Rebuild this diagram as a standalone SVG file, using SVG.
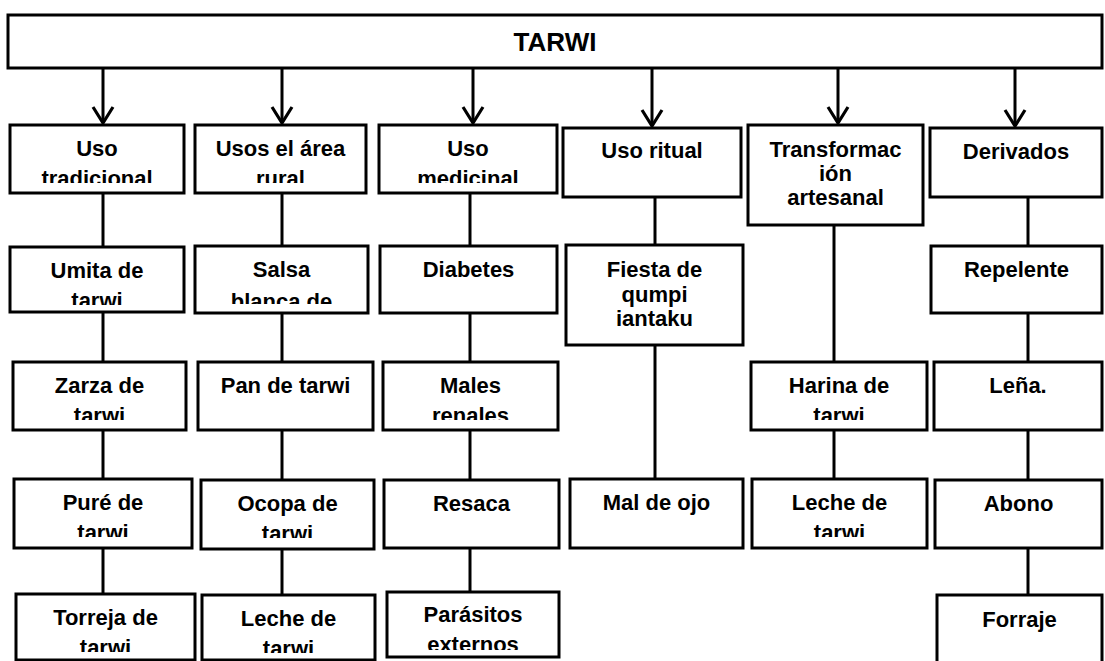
<svg xmlns="http://www.w3.org/2000/svg" width="1105" height="661" viewBox="0 0 1105 661">
<style>
.box{fill:#fff;stroke:#000;stroke-width:3}
.t{font-family:"Liberation Sans",Arial,sans-serif;font-weight:bold;font-size:22px;text-anchor:middle;fill:#000}
.tt{font-family:"Liberation Sans",Arial,sans-serif;font-weight:bold;font-size:26px;text-anchor:middle;fill:#000}
.c{stroke:#000;stroke-width:3;fill:none}
</style>
<defs>
<marker id="ah" markerUnits="userSpaceOnUse" markerWidth="24" markerHeight="26" viewBox="-18 -13 20 26" refX="0" refY="0" orient="auto">
<path d="M-16,-10 L0,0 L-16,10" fill="none" stroke="#000" stroke-width="3.2"/>
</marker>
<clipPath id="k1"><rect x="10" y="125" width="174" height="58"/></clipPath>
<clipPath id="k2"><rect x="195" y="125" width="171" height="58"/></clipPath>
<clipPath id="k3"><rect x="379" y="125" width="178" height="58"/></clipPath>
<clipPath id="k4"><rect x="10" y="247" width="174" height="58"/></clipPath>
<clipPath id="k5"><rect x="195" y="246" width="173" height="58"/></clipPath>
<clipPath id="k6"><rect x="13" y="362" width="173" height="58"/></clipPath>
<clipPath id="k7"><rect x="383" y="362" width="175" height="58"/></clipPath>
<clipPath id="k8"><rect x="751" y="362" width="176" height="58"/></clipPath>
<clipPath id="k9"><rect x="14" y="479" width="178" height="58"/></clipPath>
<clipPath id="k10"><rect x="201" y="480" width="173" height="58"/></clipPath>
<clipPath id="k11"><rect x="752" y="479" width="175" height="58"/></clipPath>
<clipPath id="k12"><rect x="16" y="594" width="179" height="58"/></clipPath>
<clipPath id="k13"><rect x="202" y="595" width="173" height="58"/></clipPath>
<clipPath id="k14"><rect x="387" y="592" width="172" height="58"/></clipPath>
</defs>

<g id="connectors">
<line class="c" x1="103" y1="69" x2="103" y2="123" marker-end="url(#ah)"/>
<line class="c" x1="282" y1="69" x2="282" y2="123" marker-end="url(#ah)"/>
<line class="c" x1="473" y1="69" x2="473" y2="123" marker-end="url(#ah)"/>
<line class="c" x1="652" y1="69" x2="652" y2="126" marker-end="url(#ah)"/>
<line class="c" x1="838" y1="69" x2="838" y2="123" marker-end="url(#ah)"/>
<line class="c" x1="1015" y1="69" x2="1015" y2="126" marker-end="url(#ah)"/>
<line class="c" x1="103" y1="193" x2="103" y2="247"/>
<line class="c" x1="103" y1="312" x2="103" y2="362"/>
<line class="c" x1="103" y1="430" x2="103" y2="479"/>
<line class="c" x1="103" y1="548" x2="103" y2="594"/>
<line class="c" x1="282" y1="193" x2="282" y2="246"/>
<line class="c" x1="282" y1="313" x2="282" y2="362"/>
<line class="c" x1="282" y1="430" x2="282" y2="480"/>
<line class="c" x1="282" y1="549" x2="282" y2="595"/>
<line class="c" x1="470" y1="193" x2="470" y2="246"/>
<line class="c" x1="470" y1="313" x2="470" y2="362"/>
<line class="c" x1="470" y1="430" x2="470" y2="480"/>
<line class="c" x1="470" y1="548" x2="470" y2="592"/>
<line class="c" x1="655" y1="197" x2="655" y2="245"/>
<line class="c" x1="655" y1="345" x2="655" y2="479"/>
<line class="c" x1="834" y1="225" x2="834" y2="362"/>
<line class="c" x1="834" y1="430" x2="834" y2="479"/>
<line class="c" x1="1028" y1="197" x2="1028" y2="246"/>
<line class="c" x1="1028" y1="313" x2="1028" y2="362"/>
<line class="c" x1="1028" y1="430" x2="1028" y2="480"/>
<line class="c" x1="1028" y1="548" x2="1028" y2="595"/>
</g>

<g id="n-tarwi"><rect class="box" x="8" y="15" width="1094" height="53"/><text class="tt" x="555" y="51">TARWI</text></g>

<g id="n-uso-tradicional"><rect class="box" x="10" y="125" width="174" height="68"/><text class="t" clip-path="url(#k1)"><tspan x="97" y="156">Uso</tspan><tspan x="97" y="186">tradicional</tspan></text></g>
<g id="n-usos-rural"><rect class="box" x="195" y="125" width="171" height="68"/><text class="t" clip-path="url(#k2)"><tspan x="280.5" y="156">Usos el área</tspan><tspan x="280.5" y="186">rural</tspan></text></g>
<g id="n-uso-medicinal"><rect class="box" x="379" y="125" width="178" height="68"/><text class="t" clip-path="url(#k3)"><tspan x="468" y="156">Uso</tspan><tspan x="468" y="186">medicinal</tspan></text></g>
<g id="n-uso-ritual"><rect class="box" x="563" y="128" width="178" height="69"/><text class="t" x="652" y="158">Uso ritual</text></g>
<g id="n-transformacion"><rect class="box" x="748" y="125" width="175" height="100"/><text class="t"><tspan x="835.5" y="157">Transformac</tspan><tspan x="835.5" y="181">ión</tspan><tspan x="835.5" y="205">artesanal</tspan></text></g>
<g id="n-derivados"><rect class="box" x="930" y="128" width="172" height="69"/><text class="t" x="1016" y="159">Derivados</text></g>

<g id="n-umita"><rect class="box" x="10" y="247" width="174" height="65"/><text class="t" clip-path="url(#k4)"><tspan x="97" y="278">Umita de</tspan><tspan x="97" y="308">tarwi</tspan></text></g>
<g id="n-salsa"><rect class="box" x="195" y="246" width="173" height="67"/><text class="t" clip-path="url(#k5)"><tspan x="281.5" y="277">Salsa</tspan><tspan x="281.5" y="309">blanca de</tspan></text></g>
<g id="n-diabetes"><rect class="box" x="380" y="246" width="177" height="67"/><text class="t" x="468.5" y="277">Diabetes</text></g>
<g id="n-fiesta"><rect class="box" x="566" y="245" width="177" height="100"/><text class="t"><tspan x="654.5" y="277">Fiesta de</tspan><tspan x="654.5" y="302">qumpi</tspan><tspan x="654.5" y="326">iantaku</tspan></text></g>
<g id="n-repelente"><rect class="box" x="931" y="246" width="171" height="67"/><text class="t" x="1016.5" y="277">Repelente</text></g>

<g id="n-zarza"><rect class="box" x="13" y="362" width="173" height="68"/><text class="t" clip-path="url(#k6)"><tspan x="99.5" y="393">Zarza de</tspan><tspan x="99.5" y="423">tarwi</tspan></text></g>
<g id="n-pan"><rect class="box" x="198" y="362" width="175" height="68"/><text class="t" x="285.5" y="393">Pan de tarwi</text></g>
<g id="n-males"><rect class="box" x="383" y="362" width="175" height="68"/><text class="t" clip-path="url(#k7)"><tspan x="470.5" y="393">Males</tspan><tspan x="470.5" y="423">renales</tspan></text></g>
<g id="n-harina"><rect class="box" x="751" y="362" width="176" height="68"/><text class="t" clip-path="url(#k8)"><tspan x="839" y="393">Harina de</tspan><tspan x="839" y="423">tarwi</tspan></text></g>
<g id="n-lena"><rect class="box" x="934" y="362" width="168" height="68"/><text class="t" x="1018" y="393">Leña.</text></g>

<g id="n-pure"><rect class="box" x="14" y="479" width="178" height="69"/><text class="t" clip-path="url(#k9)"><tspan x="103" y="510">Puré de</tspan><tspan x="103" y="540">tarwi</tspan></text></g>
<g id="n-ocopa"><rect class="box" x="201" y="480" width="173" height="69"/><text class="t" clip-path="url(#k10)"><tspan x="287.5" y="511">Ocopa de</tspan><tspan x="287.5" y="541">tarwi</tspan></text></g>
<g id="n-resaca"><rect class="box" x="384" y="480" width="175" height="68"/><text class="t" x="471.5" y="511">Resaca</text></g>
<g id="n-mal-ojo"><rect class="box" x="570" y="479" width="173" height="69"/><text class="t" x="656.5" y="510">Mal de ojo</text></g>
<g id="n-leche5"><rect class="box" x="752" y="479" width="175" height="69"/><text class="t" clip-path="url(#k11)"><tspan x="839.5" y="510">Leche de</tspan><tspan x="839.5" y="540">tarwi</tspan></text></g>
<g id="n-abono"><rect class="box" x="935" y="480" width="167" height="68"/><text class="t" x="1018.5" y="511">Abono</text></g>

<g id="n-torreja"><rect class="box" x="16" y="594" width="179" height="66"/><text class="t" clip-path="url(#k12)"><tspan x="105.5" y="625">Torreja de</tspan><tspan x="105.5" y="655">tarwi</tspan></text></g>
<g id="n-leche2"><rect class="box" x="202" y="595" width="173" height="65"/><text class="t" clip-path="url(#k13)"><tspan x="288.5" y="626">Leche de</tspan><tspan x="288.5" y="656">tarwi</tspan></text></g>
<g id="n-parasitos"><rect class="box" x="387" y="592" width="172" height="65"/><text class="t" clip-path="url(#k14)"><tspan x="473" y="622">Parásitos</tspan><tspan x="473" y="652">externos</tspan></text></g>
<g id="n-forraje"><rect class="box" x="937" y="595" width="165" height="68"/><text class="t" x="1019.5" y="627">Forraje</text></g>
</svg>
